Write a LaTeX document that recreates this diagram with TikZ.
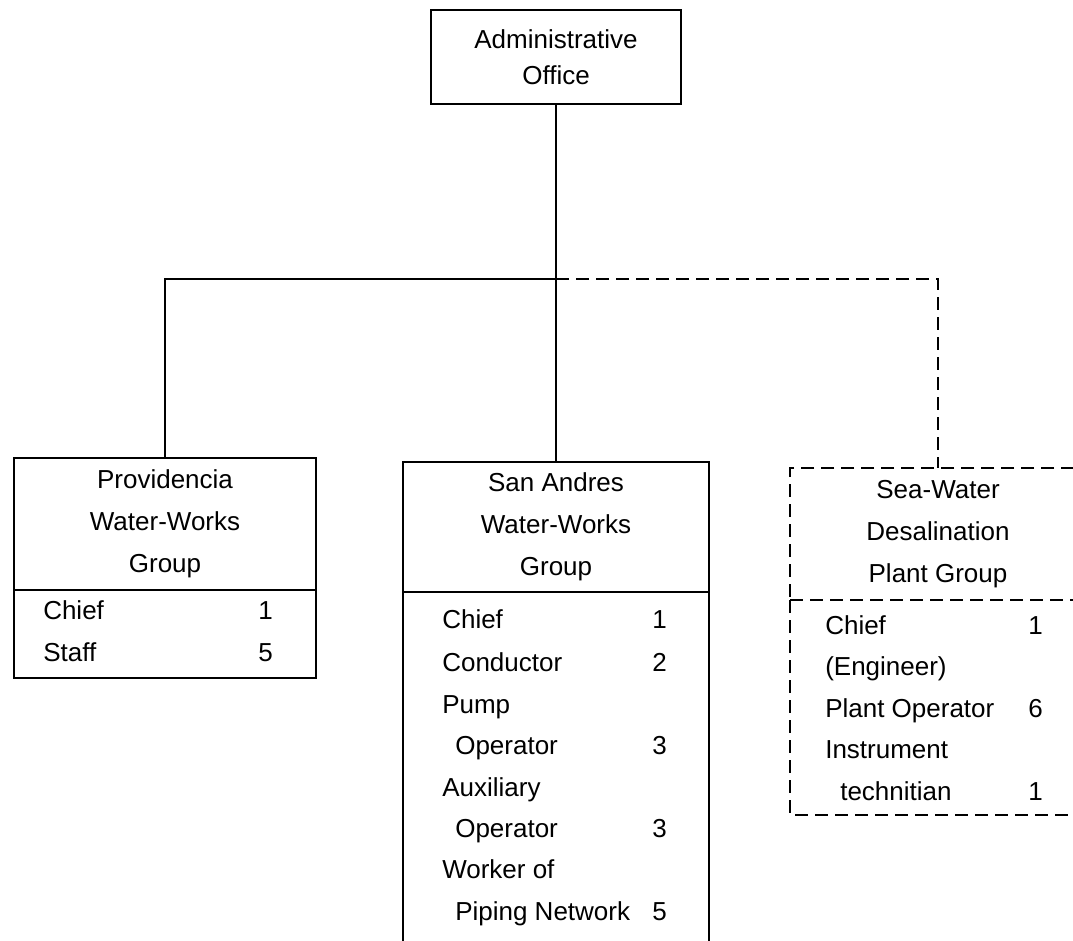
\documentclass[tikz,border=0pt]{standalone}
\usepackage{fontspec}
\setmainfont{Liberation Sans}
\usetikzlibrary{positioning}

\tikzset{
  grpbox/.style={draw, line width=1.4pt, inner sep=0pt, outer sep=0pt, align=center,
    font=\fontsize{19.5}{31.5}\selectfont},
  dashbox/.style={grpbox, dash pattern=on 10pt off 5pt},
  entry/.style={anchor=west, inner sep=0pt, text height=14pt, text depth=4pt,
    font=\fontsize{19.5}{24}\selectfont},
  count/.style={entry, anchor=east},
  link/.style={line width=1.4pt},
  dashlink/.style={link, dash pattern=on 10pt off 5pt}
}

\begin{document}
\begin{tikzpicture}[x=0.75pt,y=-0.75pt]
\useasboundingbox (0,0) rectangle (1073,941);
% head office
\node[grpbox, minimum width=188pt, minimum height=70.5pt,
  font=\fontsize{19.5}{27}\selectfont] (office) at (556,57) {Administrative\\Office};
\coordinate (hub) at (556,279);
% the three groups
\node[grpbox, minimum width=226.5pt, minimum height=99pt] (provhead) at (165,524)
  {Providencia\\Water-Works\\Group};
\node[grpbox, minimum width=226.5pt, minimum height=66pt, below=0pt of provhead] (provlist) {};
\node[grpbox, minimum width=229.5pt, minimum height=97.5pt] (sahead) at (556,527)
  {San Andres\\Water-Works\\Group};
\node[grpbox, minimum width=229.5pt, minimum height=276pt, below=0pt of sahead] (salist) {};
\node[dashbox, minimum width=222pt, minimum height=99pt] (swhead) at (938,534)
  {Sea-Water\\Desalination\\Plant Group};
\node[dashbox, draw=none, minimum width=222pt, minimum height=161.25pt, below=0pt of swhead] (swlist) {};
\draw[dashlink] (swlist.north west) |- (swlist.south east) -- (swlist.north east);
% staff lists
\foreach \x/\y/\t in {43/613/Chief, 43/655/Staff}
  \node[entry] (prov-\y) at (\x,\y) {\t};
\foreach \y/\n in {613/1, 655/5}
  \node[count] (provn-\y) at (273,\y) {\n};
\foreach \x/\y/\t in {442/622/Chief, 442/665/Conductor, 442/707/Pump, 455/748/Operator,
  442/790/Auxiliary, 455/831/Operator, 442/872/Worker of, 455/914/Piping Network}
  \node[entry] (sa-\y) at (\x,\y) {\t};
\foreach \y/\n in {622/1, 665/2, 748/3, 831/3, 914/5}
  \node[count] (san-\y) at (667,\y) {\n};
\foreach \x/\y/\t in {825/628/Chief, 825/669/{(Engineer)}, 825/711/Plant Operator,
  825/752/Instrument, 840/794/technitian}
  \node[entry] (sw-\y) at (\x,\y) {\t};
\foreach \y/\n in {628/1, 711/6, 794/1}
  \node[count] (swn-\y) at (1043,\y) {\n};
% connectors
\draw[link] (office.south) -- (hub) -| (provhead.north);
\draw[link] (hub) -- (sahead.north);
\draw[dashlink] (hub) -| (swhead.north);
\end{tikzpicture}
\end{document}
